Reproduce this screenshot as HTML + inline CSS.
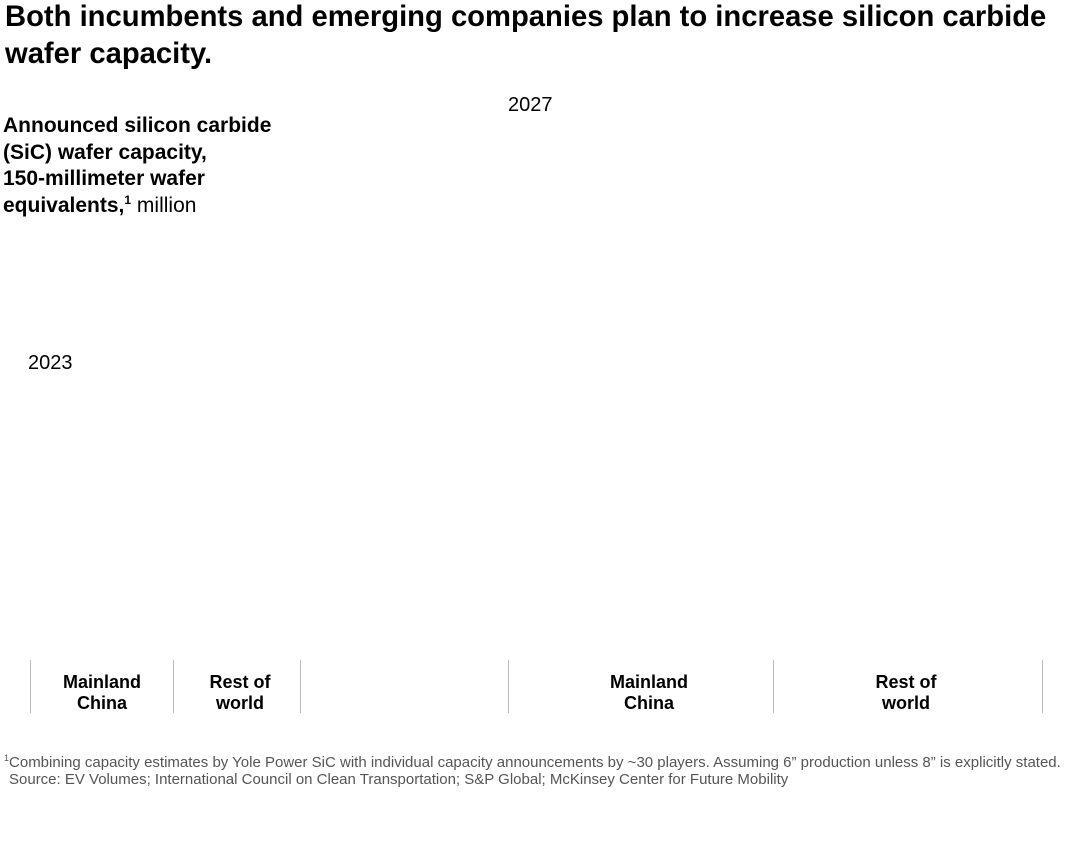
<!DOCTYPE html>
<html><head><meta charset="utf-8"><style>
body{margin:0;width:1080px;height:856px;background:#fff;font-family:"Liberation Sans",sans-serif;color:#000;position:relative;overflow:hidden}
.a{position:absolute;white-space:nowrap}
.t{left:5px;top:-1px;font-size:29.2px;font-weight:bold;line-height:37px}
.y{font-size:20px}
.l{font-size:21px;font-weight:bold;line-height:26.5px}
.c{font-size:18px;font-weight:bold;line-height:21px;text-align:center;width:120px}
.v{position:absolute;top:660px;height:53px;width:1px;background:#bbb}
.f{font-size:15px;color:#555}
sup{line-height:0}
</style></head><body>
<div class="a t">Both incumbents and emerging companies plan to increase silicon carbide<br>wafer capacity.</div>
<div class="a y" style="left:508px;top:94px">2027</div>
<div class="a l" style="left:3px;top:113px">Announced silicon carbide<br>(SiC) wafer capacity,<br>150-millimeter wafer<br>equivalents,<sup style="font-size:12px">1</sup> <span style="font-weight:normal">million</span></div>
<div class="a y" style="left:28px;top:352px">2023</div>
<div class="v" style="left:30px"></div><div class="v" style="left:173px"></div><div class="v" style="left:300px"></div>
<div class="v" style="left:508px"></div><div class="v" style="left:773px"></div><div class="v" style="left:1042px"></div>
<div class="a c" style="left:42px;top:672px">Mainland<br>China</div>
<div class="a c" style="left:180px;top:672px">Rest of<br>world</div>
<div class="a c" style="left:589px;top:672px">Mainland<br>China</div>
<div class="a c" style="left:846px;top:672px">Rest of<br>world</div>
<div class="a f" style="left:4px;top:754px"><sup style="font-size:9px">1</sup>Combining capacity estimates by Yole Power SiC with individual capacity announcements by ~30 players. Assuming 6” production unless 8” is explicitly stated.</div>
<div class="a f" style="left:9px;top:771px">Source: EV Volumes; International Council on Clean Transportation; S&amp;P Global; McKinsey Center for Future Mobility</div>
</body></html>
